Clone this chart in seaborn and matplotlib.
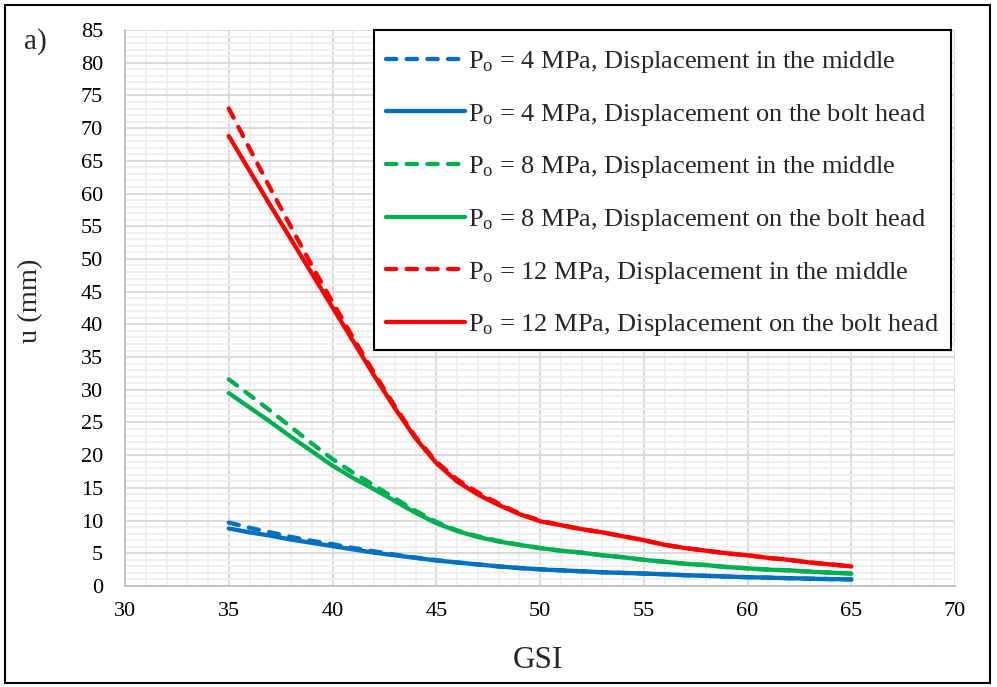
import numpy as np
import pandas as pd
import matplotlib
matplotlib.use("Agg")
import matplotlib.pyplot as plt
from matplotlib.patches import Rectangle
from matplotlib.ticker import MultipleLocator
import seaborn as sns

# GSI values and radial displacement u (mm)
gsi = list(range(35, 66))

u_4_mid = [9.7, 8.9, 8.2, 7.5, 6.9, 6.4, 5.8, 5.3, 4.8, 4.35, 3.95, 3.6, 3.3, 3.0, 2.75,
           2.55, 2.4, 2.25, 2.1, 2.0, 1.9, 1.8, 1.65, 1.55, 1.45, 1.35, 1.28, 1.2, 1.12, 1.06, 1.0]
u_4_head = [8.8, 8.2, 7.7, 7.1, 6.6, 6.1, 5.6, 5.1, 4.7, 4.3, 3.9, 3.6, 3.3, 3.0, 2.75,
            2.55, 2.4, 2.25, 2.1, 2.0, 1.9, 1.8, 1.65, 1.55, 1.45, 1.35, 1.28, 1.2, 1.12, 1.06, 1.0]
u_8_mid = [31.6, 29.2, 26.8, 24.3, 21.8, 19.4, 17.3, 15.4, 13.4, 11.5, 9.8, 8.5, 7.6, 6.9, 6.3,
           5.8, 5.4, 5.1, 4.7, 4.4, 4.0, 3.7, 3.4, 3.2, 2.9, 2.7, 2.5, 2.4, 2.2, 2.05, 1.9]
u_8_head = [29.5, 27.3, 25.1, 22.8, 20.6, 18.4, 16.5, 14.8, 13.0, 11.2, 9.6, 8.4, 7.5, 6.8, 6.3,
            5.8, 5.4, 5.1, 4.7, 4.4, 4.0, 3.7, 3.4, 3.2, 2.9, 2.7, 2.5, 2.4, 2.2, 2.05, 1.9]
u_12_mid = [73.0, 66.9, 60.8, 54.9, 49.0, 43.4, 37.9, 32.6, 27.5, 22.8, 19.0, 16.3, 14.3, 12.6, 11.1,
            10.0, 9.3, 8.7, 8.2, 7.6, 7.0, 6.3, 5.8, 5.4, 5.0, 4.7, 4.3, 4.0, 3.6, 3.3, 3.0]
u_12_head = [68.8, 63.5, 58.2, 53.0, 47.8, 42.6, 37.4, 32.2, 27.2, 22.6, 18.8, 16.0, 14.0, 12.4, 11.0,
             9.9, 9.3, 8.7, 8.2, 7.6, 7.0, 6.3, 5.8, 5.4, 5.0, 4.7, 4.3, 4.0, 3.6, 3.3, 3.0]

pressures = ["4", "4", "8", "8", "12", "12"]
locations = ["in the middle", "on the bolt head"] * 3
series = [u_4_mid, u_4_head, u_8_mid, u_8_head, u_12_mid, u_12_head]
colors = ["#0070C0", "#0070C0", "#00B050", "#00B050", "#FF0000", "#FF0000"]

sns.set_theme(style="white")
plt.rcParams["font.family"] = ["Liberation Serif", "DejaVu Serif"]
plt.rcParams["mathtext.fontset"] = "custom"
plt.rcParams["mathtext.rm"] = "Liberation Serif"
plt.rcParams["mathtext.it"] = "Liberation Serif:italic"

fig = plt.figure(figsize=(9.97, 6.87), dpi=100)
ax = fig.add_axes([0.1254, 0.147, 0.8325, 0.8093])

LW = 3.1
for p, loc, vals, col in zip(pressures, locations, series, colors):
    label = r"P$_\mathregular{o}$ = " + p + " MPa, Displacement " + loc
    ls = (0, (2.4, 2.4)) if loc == "in the middle" else "-"
    sns.lineplot(x=gsi, y=vals, ax=ax, color=col, lw=LW, label=label)
    ln = ax.lines[-1]
    ln.set_linestyle(ls)
    ln.set_dash_capstyle("round")
    ln.set_solid_capstyle("round")
    ln.set_solid_joinstyle("round")

ax.set_xlim(30, 70)
ax.set_ylim(0, 85)
ax.xaxis.set_major_locator(MultipleLocator(5))
ax.yaxis.set_major_locator(MultipleLocator(5))
ax.xaxis.set_minor_locator(MultipleLocator(1))
ax.yaxis.set_minor_locator(MultipleLocator(1))
ax.grid(which="minor", color="#efefef", lw=1.3, zorder=0)
ax.grid(which="major", color="#d9d9d9", lw=1.3, zorder=0)
ax.set_axisbelow(True)

for side in ["top", "right"]:
    ax.spines[side].set_visible(False)
for side in ["left", "bottom"]:
    ax.spines[side].set_color("#bfbfbf")
    ax.spines[side].set_linewidth(1.3)

ax.tick_params(axis="both", which="major", direction="out", length=4.7,
               width=1.2, color="#bfbfbf", labelsize=16, labelcolor="black")
ax.tick_params(axis="x", which="major", pad=7)
ax.tick_params(axis="y", which="major", pad=11)
ax.tick_params(axis="both", which="minor", length=0)

ax.set_xlabel("GSI", fontsize=22.5)
ax.set_ylabel("u (mm)", fontsize=20.5)
ax.xaxis.set_label_coords(0.4976, -0.108)
ax.yaxis.set_label_coords(-0.099, 0.5126)

leg = ax.legend(loc="upper right", bbox_to_anchor=(0.9952, 1.0 - 7 / 556), fontsize=19,
                frameon=False, handlelength=3.0, handletextpad=0.1, labelspacing=1.01,
                borderpad=0.45, borderaxespad=0.0)
for h in leg.get_lines():
    h.set_linewidth(LW)
leg.set_zorder(6)

# legend frame, with extra room above the first entry
fig.canvas.draw()
bb = leg.get_window_extent()
inv = fig.transFigure.inverted()
(x0, y0) = inv.transform((bb.x0, bb.y0))
(x1, y1) = inv.transform((bb.x1, bb.y1 + 7))
frame = Rectangle((x0, y0), x1 - x0, y1 - y0, transform=fig.transFigure,
                  facecolor="white", edgecolor="black", lw=1.5, zorder=5, clip_on=False)
ax.add_patch(frame)

fig.text(0.024, 0.939, "a)", fontsize=21, ha="left", va="center")

fig.patches.append(Rectangle((0.005, 0.006), 0.988, 0.986, transform=fig.transFigure,
                             fill=False, edgecolor="black", lw=1.5))

fig.savefig("out.png", dpi=100)
